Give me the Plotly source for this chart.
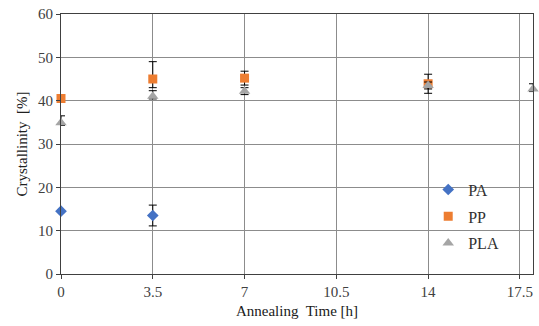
import plotly.graph_objects as go

# Data
pa_x = [0, 3.5]
pa_y = [14.5, 13.5]
pa_err_up = [0, 2.4]
pa_err_dn = [0, 2.4]

pp_x = [0, 3.5, 7, 14]
pp_y = [40.5, 45.0, 45.2, 43.9]
pp_err_up = [0, 4.0, 1.6, 2.2]
pp_err_dn = [0, 2.0, 1.6, 2.2]

pla_x = [0, 3.5, 7, 14, 18]
pla_y = [34.9, 41.0, 42.2, 43.5, 42.7]
pla_err_up = [1.6, 1.3, 0.8, 0.8, 1.2]
pla_err_dn = [0.6, 0.6, 0.8, 0.8, 0.6]

x_ticks = [0, 3.5, 7, 10.5, 14, 17.5]
y_ticks = [0, 10, 20, 30, 40, 50, 60]

font_family = "Times New Roman, Liberation Serif, serif"

fig = go.Figure()

def add(name, xs, ys, eu, ed, color, symbol, size, group):
    fig.add_trace(go.Scatter(
        x=xs, y=ys, mode="markers", name=name, legendgroup=group,
        marker=dict(color=color, symbol=symbol, size=size),
        error_y=dict(type="data", symmetric=False, array=eu, arrayminus=ed,
                     visible=True, color="#000000", thickness=1, width=4),
        cliponaxis=False,
    ))

add("PA", pa_x, pa_y, pa_err_up, pa_err_dn, "#4472C4", "diamond", 9, "a")
add("PP", pp_x, pp_y, pp_err_up, pp_err_dn, "#ED7D31", "square", 9, "b")
add("PLA", pla_x, pla_y, pla_err_up, pla_err_dn, "#A5A5A5", "triangle-up", 10, "c")

fig.update_layout(
    width=539, height=326,
    margin=dict(l=61, r=6, t=14, b=52),
    paper_bgcolor="white", plot_bgcolor="white",
    font=dict(family=font_family, size=15, color="#404040"),
    showlegend=True,
    legend=dict(x=0.778, y=0.39, xanchor="left", yanchor="top",
                traceorder="grouped", tracegroupgap=3,
                bgcolor="rgba(255,255,255,0)",
                font=dict(family=font_family, size=16, color="#303030"),
                itemwidth=30),
    xaxis=dict(range=[0, 18], tickvals=x_ticks, ticktext=[str(v) for v in x_ticks],
               showgrid=True, gridcolor="#8C8C8C", gridwidth=1,
               showline=True, linecolor="#404040", linewidth=1, mirror=True,
               ticks="outside", ticklen=4, tickcolor="#404040",
               zeroline=False,
               tickfont=dict(family=font_family, size=15, color="#404040"),
               title=dict(text="Annealing  Time [h]", standoff=6,
                          font=dict(family=font_family, size=15, color="#202020"))),
    yaxis=dict(range=[0, 60], tickvals=y_ticks,
               showgrid=True, gridcolor="#8C8C8C", gridwidth=1,
               showline=True, linecolor="#404040", linewidth=1, mirror=True,
               ticks="outside", ticklen=4, tickcolor="#404040",
               zeroline=False,
               tickfont=dict(family=font_family, size=15, color="#404040"),
               title=dict(text="Crystallinity  [%]", standoff=6,
                          font=dict(family=font_family, size=15, color="#202020"))),
)

fig.write_html("out.html")
